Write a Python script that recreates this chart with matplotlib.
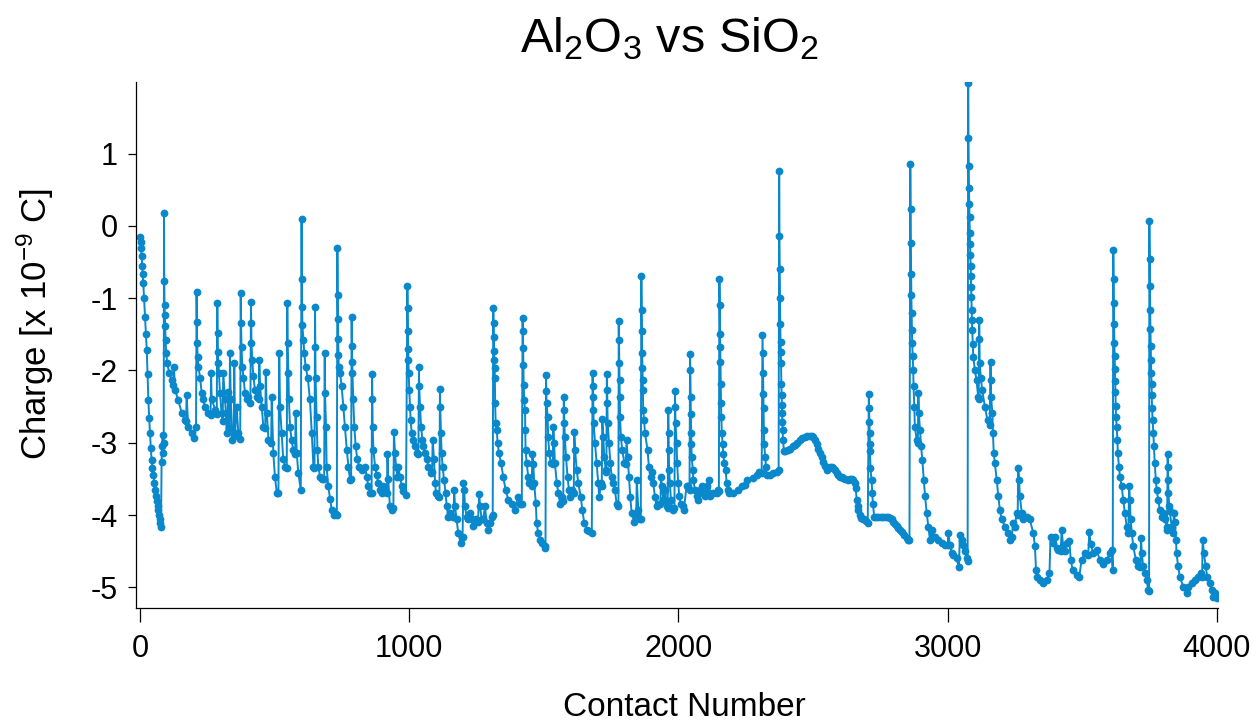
import matplotlib
matplotlib.use("Agg")
import matplotlib.pyplot as plt

plt.rcParams['font.family'] = ['Liberation Sans', 'DejaVu Sans']
plt.rcParams['mathtext.fontset'] = 'custom'
plt.rcParams['mathtext.rm'] = 'Liberation Sans'
plt.rcParams['axes.unicode_minus'] = False

# values (contact number, charge in 1e-9 C)
contact = [
    0, 2, 4, 6, 8, 10, 12, 15, 19, 22, 25, 28, 31, 34, 37, 40, 43, 46, 50, 53, 56, 59, 62, 65, 68, 71, 73, 76, 78, 80, 82, 84, 86, 88,
    89, 90, 91, 92, 93, 95, 97, 101, 109, 118, 124, 126, 130, 142, 155, 167, 171, 173, 179, 192, 202, 208,
    210, 211, 212, 214, 217, 223, 229, 235, 241, 254, 262, 264, 266, 279, 285,
    287, 288, 289, 291, 293, 297, 303, 307, 309, 316, 322, 328, 332,
    334, 337, 343, 348, 350, 353, 359, 365, 372,
    374, 375, 377, 380, 384, 390, 396, 402, 410,
    412, 413, 414, 417, 421, 427, 433, 441, 443, 446, 452, 458, 465, 467, 471, 477, 487, 489, 495, 501, 508, 514,
    517, 520, 526, 532, 539, 545,
    547, 548, 551, 553, 557, 563, 569, 576, 578, 582, 588, 597,
    600, 601, 602, 603, 607, 610, 615, 623, 631, 638, 644, 648,
    650, 651, 652, 656, 659, 662, 669, 677, 684,
    686, 687, 691, 693, 699, 706, 712, 720, 728, 731,
    733, 734, 735, 736, 737, 738, 743, 749, 755, 761, 768, 774, 780, 784,
    786, 787, 788, 789, 792, 796, 801, 807, 815, 823, 836, 842, 848, 854, 860,
    862, 863, 864, 867, 873, 879, 885, 891, 898, 904, 910, 917, 919, 922, 928, 935, 941,
    943, 947, 951, 956, 959, 966, 972, 978, 988,
    993, 994, 995, 996, 997, 998, 1000, 1003, 1005, 1009, 1015, 1021, 1030, 1034,
    1036, 1037, 1040, 1044, 1049, 1052, 1058, 1065, 1071, 1080, 1085,
    1087, 1092, 1096, 1099, 1106, 1112,
    1114, 1115, 1118, 1120, 1124, 1129, 1135, 1139, 1145, 1151, 1164, 1167, 1170, 1176, 1182, 1191, 1198,
    1201, 1204, 1207, 1213, 1219, 1226, 1232, 1238, 1247, 1255, 1260, 1263, 1269, 1275, 1281, 1288, 1294, 1300, 1306, 1310,
    1312, 1313, 1314, 1315, 1316, 1317, 1318, 1319, 1321, 1325, 1328, 1333, 1341, 1349, 1358, 1368, 1380, 1393, 1403, 1411, 1418,
    1421, 1422, 1423, 1424, 1425, 1427, 1430, 1431, 1432, 1436, 1442, 1446, 1455, 1457, 1461, 1464, 1470, 1473, 1479, 1486, 1494, 1504, 1506,
    1508, 1509, 1510, 1514, 1516, 1520, 1526, 1533, 1535, 1538, 1541, 1548, 1554, 1560, 1566, 1572,
    1574, 1575, 1576, 1578, 1582, 1588, 1593, 1598, 1606, 1611, 1613, 1616, 1622, 1628, 1637, 1643, 1650, 1659, 1668, 1678,
    1681, 1682, 1683, 1684, 1685, 1690, 1696, 1702, 1706, 1712, 1715, 1717, 1721, 1724, 1730, 1732,
    1734, 1735, 1736, 1737, 1742, 1747, 1752, 1758, 1764, 1770, 1777,
    1778, 1779, 1780, 1781, 1782, 1783, 1786, 1791, 1799, 1805, 1807, 1811, 1816, 1821, 1826, 1835, 1843, 1845, 1851, 1858, 1860,
    1862, 1863, 1864, 1865, 1866, 1867, 1868, 1869, 1872, 1876, 1885, 1890, 1897, 1903, 1906, 1913, 1919, 1925, 1933, 1935, 1938, 1944, 1950, 1956, 1960,
    1962, 1963, 1964, 1965, 1968, 1972, 1978, 1985,
    1987, 1988, 1989, 1993, 1995, 1999, 2003, 2008, 2016, 2020, 2030, 2035, 2041,
    2043, 2044, 2045, 2046, 2047, 2048, 2049, 2053, 2055, 2061, 2068, 2074, 2080, 2086, 2092, 2098, 2105, 2112, 2115, 2117, 2129, 2142, 2146, 2150,
    2152, 2153, 2154, 2155, 2156, 2157, 2158, 2159, 2161, 2164, 2166, 2170, 2175, 2179, 2183, 2189, 2204, 2222, 2235, 2247, 2255, 2278, 2290, 2300, 2309,
    2312, 2313, 2314, 2315, 2316, 2317, 2318, 2322, 2325, 2327, 2340, 2352, 2365, 2372,
    2374, 2375, 2376, 2377, 2378, 2379, 2380, 2381, 2382, 2383, 2384, 2385, 2386, 2387, 2388, 2392, 2396, 2405, 2414, 2424,
    2433, 2442, 2451, 2460, 2470, 2479, 2488, 2495, 2501, 2507, 2513, 2520, 2526, 2532, 2538, 2544, 2550, 2557, 2563, 2569,
    2575, 2582, 2588, 2594, 2600, 2606, 2612, 2620, 2631, 2637, 2643, 2649, 2654, 2658, 2662, 2665, 2668, 2673, 2678, 2684,
    2690, 2697, 2703,
    2707, 2708, 2709, 2710, 2711, 2712, 2713, 2717, 2720, 2722, 2727, 2735, 2742, 2752, 2761, 2770, 2779, 2786, 2792, 2798,
    2804, 2810, 2816, 2823, 2829, 2839, 2848, 2854, 2858,
    2861, 2862, 2863, 2864, 2865, 2866, 2867, 2868, 2870, 2872, 2873, 2876, 2878, 2885, 2889, 2891, 2893, 2897, 2901, 2906,
    2911, 2916, 2922, 2928, 2934, 2940, 2946, 2953, 2965, 2977, 2990, 3000, 3002, 3008, 3015, 3021, 3033, 3042, 3045, 3052,
    3058, 3064, 3070, 3074,
    3076, 3077, 3078, 3079, 3080, 3081, 3082, 3083, 3084, 3085, 3086, 3087, 3088, 3089, 3090, 3091, 3093, 3095, 3101, 3107, 3113, 3115,
    3117, 3118, 3119, 3123, 3128, 3138, 3148, 3156,
    3159, 3160, 3161, 3166, 3168, 3171, 3175, 3182, 3188, 3194, 3200, 3213, 3225, 3231, 3238, 3243, 3250, 3256, 3260,
    3262, 3265, 3268, 3275, 3281, 3293, 3305, 3318, 3324, 3328, 3333, 3343, 3355, 3367, 3378, 3382, 3392, 3398, 3405, 3411,
    3420, 3423, 3429, 3436, 3442, 3452, 3457, 3464, 3479, 3489, 3497, 3510, 3522, 3526, 3531, 3541, 3553, 3565, 3578, 3590,
    3603, 3609, 3613,
    3615, 3616, 3617, 3618, 3619, 3620, 3621, 3622, 3623, 3624, 3625, 3628, 3630, 3632, 3636, 3640, 3646, 3652, 3658, 3665,
    3671, 3674, 3677, 3679, 3684, 3689, 3699, 3708, 3716, 3718, 3721, 3726, 3733, 3739, 3745, 3748,
    3749, 3750, 3751, 3752, 3753, 3754, 3755, 3756, 3757, 3758, 3759, 3761, 3764, 3766, 3769, 3773, 3776, 3782, 3788, 3795,
    3801, 3807, 3813, 3815,
    3817, 3818, 3819, 3820, 3823, 3825, 3832, 3838, 3840, 3844, 3848, 3850, 3856, 3862, 3875, 3887, 3893, 3906, 3918, 3931,
    3940, 3945, 3947, 3952, 3958, 3964, 3974, 3980, 3986, 3993, 3999,
]

charge = [
    -0.15, -0.22, -0.30, -0.42, -0.55, -0.67, -0.79, -1.00, -1.26, -1.50, -1.72, -2.05, -2.41, -2.66, -2.87, -3.07, -3.24, -3.35, -3.45, -3.56, -3.65, -3.73, -3.80, -3.87, -3.93, -4.00, -4.05, -4.11, -4.16, -3.26, -3.05, -2.89, -3.14, -3.00,
    0.18, -0.76, -1.10, -1.23, -1.39, -1.58, -1.76, -1.90, -2.04, -2.13, -2.20, -1.95, -2.27, -2.41, -2.59, -2.69, -2.70, -2.34, -2.78, -2.87, -2.93, -2.78,
    -0.92, -1.33, -1.62, -1.81, -1.95, -2.10, -2.31, -2.40, -2.50, -2.59, -2.62, -2.04, -2.40, -2.54, -2.60,
    -1.07, -1.48, -1.74, -1.90, -2.04, -2.31, -2.59, -2.70, -2.04, -2.40, -2.87, -2.30, -2.80,
    -1.76, -2.40, -2.96, -2.90, -1.90, -2.87, -2.50, -2.87, -2.95,
    -0.93, -1.34, -1.67, -1.95, -2.10, -2.31, -2.40, -2.36, -2.45,
    -1.05, -1.34, -1.62, -1.86, -2.08, -2.27, -2.36, -2.40, -1.86, -2.22, -2.50, -2.78, -2.80, -2.02, -2.59, -2.96, -3.00, -2.36, -3.14, -3.47, -3.69, -3.69,
    -1.76, -2.50, -2.87, -3.23, -3.33, -3.35,
    -1.06, -1.62, -2.04, -2.40, -2.78, -2.96, -3.10, -3.15, -2.59, -3.14, -3.42, -3.65,
    0.09, -0.74, -1.12, -1.37, -1.58, -1.76, -1.95, -2.10, -2.40, -2.87, -3.33, -3.35,
    -1.12, -1.67, -2.10, -2.64, -3.10, -3.33, -3.47, -3.50, -3.50,
    -1.76, -2.31, -2.78, -3.33, -3.60, -3.78, -3.93, -4.00, -3.98, -4.00,
    -0.31, -0.96, -1.29, -1.57, -1.78, -1.95, -2.04, -2.22, -2.50, -2.78, -3.10, -3.33, -3.51, -3.50,
    -1.26, -1.66, -1.88, -2.04, -2.40, -2.78, -3.05, -3.23, -3.33, -3.38, -3.33, -3.47, -3.60, -3.69, -3.70,
    -2.05, -2.40, -2.78, -3.10, -3.33, -3.45, -3.56, -3.65, -3.69, -3.60, -3.65, -3.70, -3.15, -3.50, -3.88, -3.93, -3.90,
    -2.85, -3.14, -3.33, -3.47, -3.33, -3.47, -3.60, -3.67, -3.72,
    -0.83, -1.14, -1.46, -1.70, -1.86, -2.04, -2.27, -2.50, -2.68, -2.87, -2.96, -3.05, -3.14, -3.15,
    -1.95, -2.22, -2.50, -2.78, -2.96, -3.05, -3.14, -3.23, -3.33, -3.42, -3.40,
    -2.96, -3.23, -3.56, -3.69, -3.74, -3.75,
    -2.26, -2.50, -2.87, -3.14, -3.33, -3.51, -3.69, -3.88, -4.02, -3.97, -4.02, -3.65, -3.88, -4.06, -4.25, -4.39, -4.30,
    -3.56, -3.65, -3.88, -4.02, -4.06, -3.97, -4.06, -4.15, -4.06, -4.10, -3.71, -3.88, -4.06, -4.06, -3.88, -4.11, -4.20, -4.11, -4.02, -4.00,
    -1.13, -1.35, -1.54, -1.73, -1.86, -1.96, -2.10, -2.45, -2.73, -2.82, -3.00, -3.14, -3.28, -3.47, -3.65, -3.79, -3.84, -3.93, -3.75, -3.84, -3.85,
    -1.28, -1.45, -1.69, -1.93, -2.20, -2.41, -2.55, -2.82, -3.10, -3.28, -3.47, -3.56, -3.60, -3.15, -3.30, -3.56, -3.83, -4.11, -4.25, -4.34, -4.39, -4.43, -4.45,
    -2.06, -2.29, -2.45, -2.64, -2.92, -3.14, -3.28, -3.30, -2.78, -3.00, -3.28, -3.56, -3.70, -3.84, -3.75, -3.80,
    -2.37, -2.55, -2.73, -2.92, -3.19, -3.47, -3.65, -3.75, -3.65, -3.70, -2.85, -3.10, -3.38, -3.56, -3.75, -3.93, -4.11, -4.20, -4.22, -4.25,
    -2.03, -2.22, -2.36, -2.55, -2.73, -3.00, -3.28, -3.56, -3.75, -3.56, -3.60, -2.67, -2.92, -3.19, -3.38, -3.40,
    -2.05, -2.27, -2.45, -2.73, -3.00, -3.28, -3.47, -3.56, -3.65, -3.84, -3.88,
    -1.32, -1.58, -1.90, -2.13, -2.36, -2.64, -2.92, -3.10, -3.28, -3.30, -2.96, -3.19, -3.47, -3.75, -3.97, -4.09, -4.00, -3.51, -3.93, -4.06, -4.05,
    -0.70, -1.16, -1.46, -1.76, -1.97, -2.13, -2.27, -2.55, -2.69, -2.87, -3.10, -3.33, -3.47, -3.40, -3.56, -3.75, -3.88, -3.84, -3.85, -3.47, -3.60, -3.79, -3.65, -3.88, -3.90,
    -2.55, -2.87, -3.10, -3.37, -3.56, -3.79, -3.93, -3.90,
    -2.29, -2.50, -2.73, -3.00, -3.28, -3.56, -3.74, -3.84, -3.88, -3.93, -3.60, -3.60, -3.65,
    -1.77, -1.99, -2.36, -2.60, -2.87, -3.01, -3.19, -3.37, -3.51, -3.65, -3.74, -3.79, -3.65, -3.60, -3.70, -3.74, -3.60, -3.70, -3.51, -3.74, -3.70, -3.70, -3.65, -3.66,
    -0.73, -1.09, -1.49, -1.68, -1.88, -2.18, -2.45, -2.64, -2.87, -3.01, -3.15, -3.28, -3.37, -3.56, -3.65, -3.70, -3.70, -3.65, -3.60, -3.58, -3.51, -3.49, -3.45, -3.40, -3.42,
    -1.51, -1.76, -2.04, -2.32, -2.52, -2.82, -3.01, -3.19, -3.33, -3.45, -3.45, -3.42, -3.40, -3.37,
    0.755, -0.14, -0.59, -1.00, -1.36, -1.61, -1.74, -1.90, -2.18, -2.34, -2.48, -2.59, -2.71, -2.82, -2.96, -3.12, -3.12, -3.10, -3.08, -3.05,
    -3.03, -3.00, -2.96, -2.94, -2.92, -2.91, -2.91, -2.91, -2.92, -2.96, -3.01, -3.08, -3.14, -3.20, -3.26, -3.32, -3.37, -3.35, -3.33, -3.34,
    -3.35, -3.38, -3.42, -3.45, -3.47, -3.48, -3.49, -3.50, -3.51, -3.50, -3.50, -3.52, -3.56, -3.62, -3.79, -3.87, -3.93, -4.00, -4.04, -4.05,
    -4.06, -4.08, -4.11,
    -2.33, -2.52, -2.71, -2.86, -3.01, -3.12, -3.35, -3.51, -3.70, -3.84, -4.02, -4.02, -4.02, -4.02, -4.02, -4.02, -4.02, -4.04, -4.06, -4.10,
    -4.13, -4.15, -4.18, -4.20, -4.23, -4.27, -4.32, -4.34, -4.35,
    0.86, 0.24, -0.24, -0.66, -0.96, -1.21, -1.44, -1.62, -1.80, -1.99, -2.22, -2.50, -2.78, -2.96, -3.00, -2.31, -2.59, -2.82, -3.05, -3.24,
    -3.51, -3.74, -3.97, -4.16, -4.34, -4.20, -4.30, -4.30, -4.34, -4.38, -4.41, -4.42, -4.25, -4.41, -4.52, -4.55, -4.60, -4.72, -4.27, -4.34,
    -4.41, -4.50, -4.60, -4.64,
    1.98, 1.21, 0.83, 0.53, 0.30, 0.12, -0.10, -0.25, -0.40, -0.56, -0.70, -0.84, -0.98, -1.16, -1.30, -1.44, -1.63, -1.81, -2.00, -2.13, -2.36, -2.40,
    -1.30, -1.56, -1.90, -2.10, -2.27, -2.50, -2.69, -2.75,
    -1.88, -2.13, -2.36, -2.59, -2.87, -3.14, -3.28, -3.51, -3.74, -3.93, -4.06, -4.16, -4.25, -4.34, -4.30, -4.11, -4.16, -3.97, -4.00,
    -3.35, -3.51, -3.74, -3.97, -4.06, -4.02, -4.06, -4.25, -4.43, -4.76, -4.85, -4.90, -4.94, -4.90, -4.80, -4.30, -4.39, -4.30, -4.45, -4.48,
    -4.50, -4.20, -4.43, -4.50, -4.39, -4.36, -4.62, -4.76, -4.83, -4.85, -4.62, -4.53, -4.55, -4.23, -4.40, -4.53, -4.48, -4.62, -4.67, -4.62,
    -4.53, -4.48, -4.76,
    -0.33, -0.73, -1.06, -1.36, -1.62, -1.80, -1.98, -2.15, -2.30, -2.49, -2.64, -2.78, -2.96, -3.14, -3.33, -3.47, -3.60, -3.79, -3.97, -4.16,
    -4.25, -3.60, -3.79, -4.06, -4.25, -4.43, -4.62, -4.71, -4.72, -4.32, -4.53, -4.71, -4.80, -4.90, -5.04, -5.05,
    0.07, -0.46, -0.83, -1.16, -1.43, -1.66, -1.86, -2.03, -2.18, -2.34, -2.52, -2.68, -2.87, -3.05, -3.28, -3.51, -3.65, -3.79, -3.93, -4.02,
    -3.97, -4.06, -4.16, -4.20,
    -3.15, -3.33, -3.51, -3.70, -3.88, -3.95, -4.16, -4.25, -3.97, -4.10, -4.34, -4.53, -4.71, -4.85, -4.99, -5.08, -4.99, -4.94, -4.90, -4.85,
    -4.80, -4.85, -4.34, -4.53, -4.71, -4.85, -4.94, -5.04, -5.13, -5.08, -5.15,
]

assert len(contact) == len(charge), (len(contact), len(charge))

y_ticks = [-5, -4, -3, -2, -1, 0, 1]
x_ticks = [0, 1000, 2000, 3000, 4000]

color = '#0a88cc'

fig = plt.figure(figsize=(12.57, 7.23), dpi=100)
ax = fig.add_axes([136 / 1257, 115 / 723, 1082 / 1257, 526 / 723])

ax.plot(contact, charge, color=color, linewidth=1.4, marker='o',
        markersize=5.6, markeredgewidth=0)

ax.set_xlim(-15, 4004)
ax.set_ylim(-5.285, 1.99)
ax.set_xticks(x_ticks)
ax.set_yticks(y_ticks)
ax.set_xticklabels([str(v) for v in x_ticks])
ax.set_yticklabels([str(v) for v in y_ticks])

for side in ['top', 'right']:
    ax.spines[side].set_visible(False)
for side in ['left', 'bottom']:
    ax.spines[side].set_linewidth(0.9)

ax.tick_params(axis='x', direction='out', length=10, width=0.9, pad=9, labelsize=22)
ax.tick_params(axis='y', direction='out', length=6, width=0.9, pad=7, labelsize=22)

ax.set_xlabel('Contact Number', fontsize=24)
ax.xaxis.set_label_coords(0.507, -0.16)
ax.set_ylabel('Charge [x 10$\\mathregular{^{-9}}$ C]', fontsize=25)
ax.yaxis.set_label_coords(-0.074, 0.54)

fig.text(669 / 1257, 1 - 52 / 723, 'Al$\\mathregular{_2}$O$\\mathregular{_3}$ vs SiO$\\mathregular{_2}$',
         ha='center', va='baseline', fontsize=35)

fig.savefig('out.png', dpi=100)
